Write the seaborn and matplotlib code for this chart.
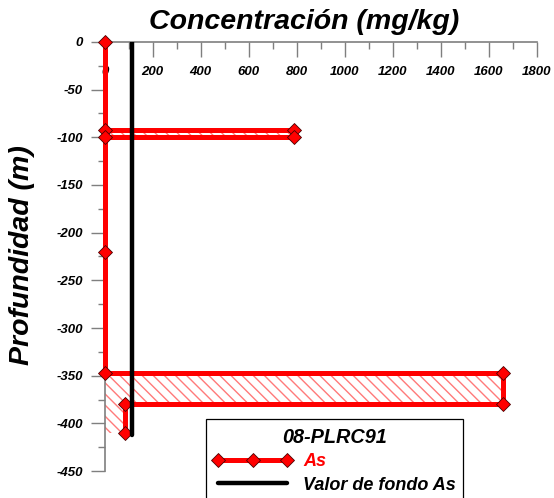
import matplotlib
matplotlib.use("Agg")
import matplotlib.pyplot as plt
from matplotlib.patches import Rectangle
from matplotlib.ticker import MultipleLocator
import seaborn as sns
import pandas as pd

# Arsenic profile for borehole 08-PLRC91
conc_as = [0, 0, 790, 790, 0, 0, 0, 1660, 1660, 85, 85]
depth_as = [0, -92, -92, -100, -100, -220, -347, -347, -380, -380, -410]

# Background value of As
fondo_conc = [112, 112]
fondo_depth = [0, -412]

x_ticks = [0, 200, 400, 600, 800, 1000, 1200, 1400, 1600, 1800]
y_ticks = [0, -50, -100, -150, -200, -250, -300, -350, -400, -450]

sns.set_theme(style="white")
plt.rcParams["font.family"] = ["Liberation Sans", "DejaVu Sans"]
plt.rcParams["axes.unicode_minus"] = False
plt.rcParams["text.color"] = "black"

df_as = pd.DataFrame({"conc": conc_as, "depth": depth_as})
df_fondo = pd.DataFrame({"conc": fondo_conc, "depth": fondo_depth})

fig = plt.figure(figsize=(5.54, 4.98), dpi=100)
ax = fig.add_axes([0.189, 0.054, 0.780, 0.862])

# Hatched area between zero and the concentration profile
ax.fill_betweenx(df_as["depth"], 0, df_as["conc"], facecolor="none",
                 edgecolor="#ff7a7a", hatch="\\\\\\", linewidth=0, zorder=1)

sns.lineplot(data=df_as, x="conc", y="depth", sort=False, estimator=None,
             color="red", linewidth=3.6, marker="D", markersize=7,
             markerfacecolor="red", markeredgecolor="#4a0000",
             markeredgewidth=0.6, ax=ax, zorder=3, clip_on=False, label="As")
sns.lineplot(data=df_fondo, x="conc", y="depth", sort=False, estimator=None,
             color="black", linewidth=3.2, ax=ax, zorder=4,
             label="Valor de fondo As")

ax.set_xlim(0, 1800)
ax.set_ylim(-450, 0)

# Top concentration axis with labels drawn just inside the plot
ax.xaxis.tick_top()
ax.set_xticks(x_ticks)
ax.xaxis.set_minor_locator(MultipleLocator(100))
ax.set_yticks(y_ticks)
ax.yaxis.set_minor_locator(MultipleLocator(25))
ax.tick_params(axis="x", which="major", direction="in", length=11, width=1,
               color="#7f7f7f", pad=-26, labelsize=9.5, top=True, bottom=False)
ax.tick_params(axis="x", which="minor", direction="in", length=5, width=1,
               color="#7f7f7f", top=True, bottom=False)
ax.tick_params(axis="y", which="major", direction="out", length=10, width=1,
               color="#7f7f7f", pad=5.5, labelsize=9.5, left=True)
ax.tick_params(axis="y", which="minor", direction="out", length=5, width=1,
               color="#7f7f7f", left=True)
for lab in ax.get_xticklabels() + ax.get_yticklabels():
    lab.set_fontweight("bold")
    lab.set_fontstyle("italic")
    lab.set_color("black")

for side in ("right", "bottom"):
    ax.spines[side].set_visible(False)
for side in ("top", "left"):
    ax.spines[side].set_color("#7f7f7f")
    ax.spines[side].set_linewidth(1.2)

ax.set_xlabel("")
ax.set_ylabel("")
fig.text(0.549, 0.956, "Concentración (mg/kg)", ha="center", va="center",
         fontsize=20.5, fontweight="bold", fontstyle="italic", color="black")
fig.text(0.040, 0.488, "Profundidad (m)", ha="center", va="center",
         rotation=90, fontsize=20.5, fontweight="bold", fontstyle="italic",
         color="black")

# Legend box running off the bottom edge of the figure
box = Rectangle((206 / 554, -0.05), 257 / 554, 1 - 419 / 498 + 0.05,
                transform=fig.transFigure, facecolor="white",
                edgecolor="black", linewidth=0.9, zorder=5, clip_on=False)
ax.add_patch(box)

leg = ax.legend(loc="upper center", bbox_to_anchor=(334.5 / 554, 1 - 428 / 498),
                bbox_transform=fig.transFigure,
                title="08-PLRC91", frameon=False, numpoints=3,
                handlelength=4.4, borderaxespad=0, borderpad=0,
                labelspacing=0.35, handletextpad=0.6,
                prop={"size": 13, "weight": "bold", "style": "italic"},
                title_fontproperties={"size": 14.3, "weight": "bold", "style": "italic"})
leg.set_zorder(6)
leg.get_texts()[0].set_color("red")

fig.savefig("out.png", dpi=100)
